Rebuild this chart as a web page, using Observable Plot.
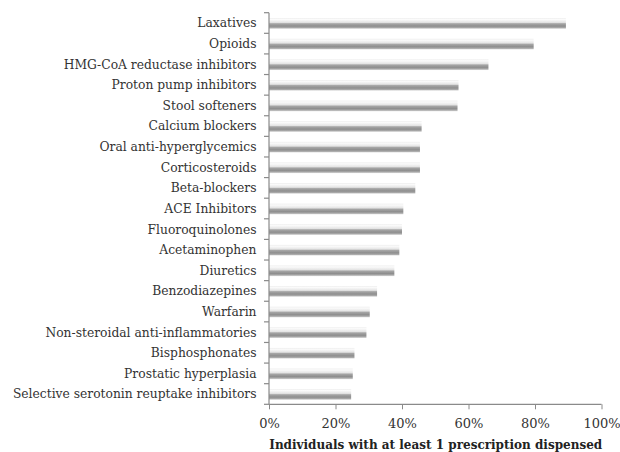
<!DOCTYPE html>
<html><head>
<meta charset="utf-8">
<script src="https://cdn.jsdelivr.net/npm/d3@7"></script>
<script src="https://cdn.jsdelivr.net/npm/@observablehq/plot@0.6"></script>
<style>
body{margin:0;background:#fff;}
</style>
</head><body><div id="chart"></div>
<script>
const categories = [
  "Laxatives","Opioids","HMG-CoA reductase inhibitors","Proton pump inhibitors",
  "Stool softeners","Calcium blockers","Oral anti-hyperglycemics","Corticosteroids",
  "Beta-blockers","ACE Inhibitors","Fluoroquinolones","Acetaminophen","Diuretics",
  "Benzodiazepines","Warfarin","Non-steroidal anti-inflammatories","Bisphosphonates",
  "Prostatic hyperplasia","Selective serotonin reuptake inhibitors"
];
const values = [0.893,0.796,0.660,0.570,0.567,0.459,0.454,0.454,0.440,0.404,0.400,0.392,0.377,0.325,0.303,0.293,0.257,0.252,0.247];
const xTicks = [0,0.2,0.4,0.6,0.8,1];
const xTitle = "Individuals with at least 1 prescription dispensed";

const data = categories.map((c,i)=>({category:c, value:values[i]}));
const axisColor = "#8a8a8a";

function defsMark(){
  const defs = d3.create("svg:defs");
  const g = defs.append("linearGradient").attr("id","barGrad")
    .attr("x1",0).attr("y1",0).attr("x2",0).attr("y2",1);
  [[0,"#ececec"],[0.12,"#fbfbfb"],[0.4,"#e4e4e4"],[0.52,"#a6a6a6"],[0.75,"#8e8e8e"],[0.9,"#aaaaaa"],[1,"#dedede"]]
    .forEach(([o,c])=>g.append("stop").attr("offset",o).attr("stop-color",c));
  return defs.node();
}

function axesLines(index, scales, values, dims){
  const x = scales.x;
  const g = d3.create("svg:g").attr("stroke",axisColor).attr("stroke-width",1.2);
  const x0 = x(0);
  const top = dims.marginTop, bottom = dims.height - dims.marginBottom;
  const step = (bottom - top)/categories.length;
  for(let i=0;i<=categories.length;i++){
    const yy = top + i*step;
    g.append("line").attr("x1",x0-5).attr("x2",x0).attr("y1",yy).attr("y2",yy);
  }
  g.append("line").attr("x1",x0).attr("x2",x0).attr("y1",top).attr("y2",bottom);
  g.append("line").attr("x1",x0).attr("x2",x(1)).attr("y1",bottom).attr("y2",bottom);
  return g.node();
}

const chart = Plot.plot({
  width: 620,
  height: 452,
  marginLeft: 269,
  marginRight: 18.5,
  marginTop: 12.7,
  marginBottom: 47.7,
  style: {fontFamily: "'DejaVu Serif', serif", color: "#333", background: "#fff"},
  x: {domain: [0,1], round: false},
  y: {domain: categories, padding: 0, round: false},
  marks: [
    defsMark,
    Plot.barX(data, {x: "value", y: "category", fill: "url(#barGrad)", insetTop: 5.5, insetBottom: 4.5}),
    axesLines,
    Plot.axisY({tickSize: 0, tickPadding: 13, fontSize: 12.3, label: null, fill: "#333"}),
    Plot.axisX({ticks: xTicks, tickFormat: d3.format(".0%"), tickSize: 5, tickPadding: 9, fontSize: 13, stroke: axisColor, fill: "#333", label: null}),
    Plot.axisX({ticks: [], label: xTitle, labelAnchor: "center", labelArrow: false, labelOffset: 44, fontSize: 12, fontWeight: "bold", fill: "#222"})
  ]
});
document.getElementById("chart").appendChild(chart);
</script>
</body></html>
